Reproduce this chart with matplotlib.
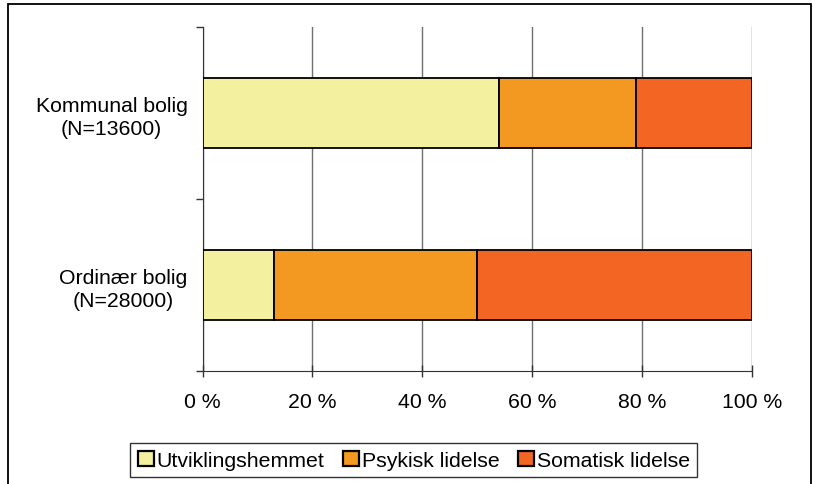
import numpy as np
import matplotlib
matplotlib.use("Agg")
from matplotlib import pyplot as plt
from matplotlib.patches import Rectangle

plt.rcParams['font.family'] = ['Liberation Sans', 'DejaVu Sans']

categories = ["Ordinær bolig\n(N=28000)", "Kommunal bolig\n(N=13600)"]
series = ["Utviklingshemmet", "Psykisk lidelse", "Somatisk lidelse"]
utvikling = [13, 54]
psykisk = [37, 25]
somatisk = [50, 21]
colors = ["#F3F09F", "#F39820", "#F26522"]
xticks = [0, 20, 40, 60, 80, 100]

fig = plt.figure(figsize=(8.13, 4.85), dpi=100)
ax = fig.add_axes([0.2493, 0.233, 0.6753, 0.7093])

# outer frame like the original export
fig.patches.append(Rectangle((8/813, -0.1), (811-8)/813, 1.1 - 5/485,
                             transform=fig.transFigure, fill=False,
                             edgecolor='black', linewidth=1.3, zorder=0))

y = np.arange(len(categories))
left = np.zeros(len(categories))
for vals, name, c in zip([utvikling, psykisk, somatisk], series, colors):
    ax.barh(y, vals, left=left, height=0.407, color=c, edgecolor='black',
            linewidth=1.3, label=name, zorder=3)
    left += np.array(vals)

ax.set_xlim(0, 100)
ax.set_ylim(-0.5, len(categories) - 0.5)
ax.set_xticks(xticks)
ax.set_xticklabels(["{} %".format(t) for t in xticks], fontsize=15.3)
ax.set_yticks(y)
ax.set_yticklabels(categories, fontsize=15.3, linespacing=1.25)
for lab in ax.get_yticklabels():
    lab.set_multialignment('center')
ax.set_yticks(np.arange(-0.5, len(categories), 1.0), minor=True)
ax.tick_params(axis='y', which='major', length=0, pad=11)
ax.tick_params(axis='y', which='minor', length=5, width=1, color='#333333')
ax.tick_params(axis='x', which='major', direction='inout', length=8, width=1,
               color='#333333', pad=11)

ax.grid(axis='x', color='#707070', linewidth=1, zorder=0)
ax.set_axisbelow(True)
for s in ['top', 'right']:
    ax.spines[s].set_visible(False)
ax.spines['left'].set_color('#333333')
ax.spines['bottom'].set_color('#333333')

leg = fig.legend(loc='center', bbox_to_anchor=(0.509, 0.049), ncol=3, fontsize=15.3,
                 frameon=True, fancybox=False, edgecolor='black',
                 handlelength=0.75, handleheight=0.75, handletextpad=0.12,
                 columnspacing=0.9, borderpad=0.35, borderaxespad=0)
leg.get_frame().set_linewidth(1)
for h in leg.legend_handles:
    h.set_linewidth(1.6)

fig.savefig("out.png", dpi=100)
